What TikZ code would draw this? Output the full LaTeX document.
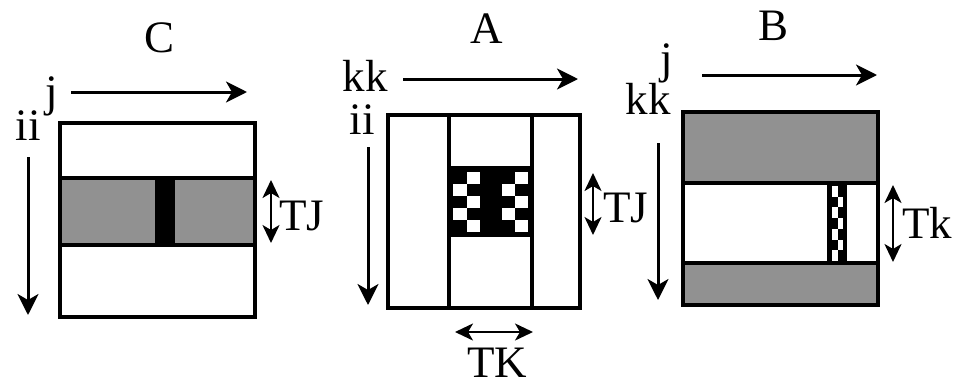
\documentclass[tikz,border=0pt]{standalone}
\usepackage{fontspec}
\setmainfont{Liberation Serif}
\usetikzlibrary{arrows.meta}
\definecolor{bandgray}{RGB}{145,145,145}
\tikzset{
  lbl/.style={inner sep=0pt, anchor=base, font=\fontsize{45}{45}\selectfont},
  frame/.style={line width=4pt},
  dirarrow/.style={line width=3pt, -{Stealth[length=21pt,width=21pt,inset=6pt]}},
  sizearrow/.style={line width=2.4pt,
    {Stealth[length=18pt,width=17pt,inset=5pt]}-{Stealth[length=18pt,width=17pt,inset=5pt]}},
}
\begin{document}
\begin{tikzpicture}[x=1pt,y=-1pt]
\useasboundingbox (0,0) rectangle (953,386);

% ---------------- C ----------------
\fill[bandgray] (60,178) rectangle (255,245);
\fill[black] (155,178) rectangle (175,245);
\draw[frame] (60,123) rectangle (255,317);
\draw[frame] (60,178) -- (255,178) (60,245) -- (255,245);

\node[lbl] (labC) at (160,52) {C};
\node[lbl] (jC) at (52,106) {j};
\node[lbl] (iiC) at (28,140) {ii};
\node[lbl, anchor=base west] (tjC) at (279,230) {TJ};
\coordinate (jCs) at (71,92);  \coordinate (jCe) at (247,92);
\coordinate (iCs) at (28,157); \coordinate (iCe) at (28,315);
\coordinate (tCs) at (271,180); \coordinate (tCe) at (271,243);
\draw[dirarrow] (jCs) -- (jCe);
\draw[dirarrow] (iCs) -- (iCe);
\draw[sizearrow] (tCs) -- (tCe);

% ---------------- A ----------------
\fill[black] (449,168) rectangle (532,235);
% checkered halves of the block
\foreach \r in {0,...,4}{
  \foreach \c in {0,1}{
    \pgfmathtruncatemacro{\parity}{mod(\r+\c,2)}
    \ifnum\parity=1
      \fill[white] ({453+13.5*\c},{172+12*\r}) rectangle ++(13.5,12);
      \fill[white] ({502+13*\c},{172+12*\r}) rectangle ++(13,12);
    \fi
  }
}
\draw[frame] (449,168) -- (532,168) (449,235) -- (532,235);
\draw[frame] (388,115) rectangle (580,308);
\draw[frame] (449,115) -- (449,308) (532,115) -- (532,308);

\node[lbl] (labA) at (487,43) {A};
\node[lbl] (kkA) at (365,91) {kk};
\node[lbl] (iiA) at (362,134) {ii};
\node[lbl, anchor=base west] (tjA) at (603,222) {TJ};
\node[lbl] (tkA) at (497,377) {TK};
\coordinate (kAs) at (403,79);  \coordinate (kAe) at (578,79);
\coordinate (iAs) at (368,147); \coordinate (iAe) at (368,305);
\coordinate (tAs) at (593,173); \coordinate (tAe) at (593,235);
\coordinate (wAs) at (455,332); \coordinate (wAe) at (533,332);
\draw[dirarrow] (kAs) -- (kAe);
\draw[dirarrow] (iAs) -- (iAe);
\draw[sizearrow] (tAs) -- (tAe);
\draw[sizearrow] (wAs) -- (wAe);

% ---------------- B ----------------
\fill[bandgray] (683,112) rectangle (878,183);
\fill[bandgray] (683,263) rectangle (878,305);
\fill[black] (827,183) rectangle (847,263);
\foreach \r in {0,...,6}{
  \foreach \c in {0,1}{
    \pgfmathtruncatemacro{\parity}{mod(\r+\c,2)}
    \ifnum\parity=0
      \fill[white] ({832+5.5*\c},{186+10.7*\r}) rectangle ++(5.5,10.7);
    \fi
  }
}
\draw[frame] (683,112) rectangle (878,305);
\draw[frame] (683,183) -- (878,183) (683,263) -- (878,263);

\node[lbl] (labB) at (773,40) {B};
\node[lbl] (jB) at (667,73) {j};
\node[lbl, anchor=base east] (kkB) at (671,114) {kk};
\node[lbl, anchor=base west] (tkB) at (902,238) {Tk};
\coordinate (jBs) at (702,75);  \coordinate (jBe) at (877,75);
\coordinate (kBs) at (658,143); \coordinate (kBe) at (658,300);
\coordinate (tBs) at (893,185); \coordinate (tBe) at (893,262);
\draw[dirarrow] (jBs) -- (jBe);
\draw[dirarrow] (kBs) -- (kBe);
\draw[sizearrow] (tBs) -- (tBe);
\end{tikzpicture}
\end{document}
